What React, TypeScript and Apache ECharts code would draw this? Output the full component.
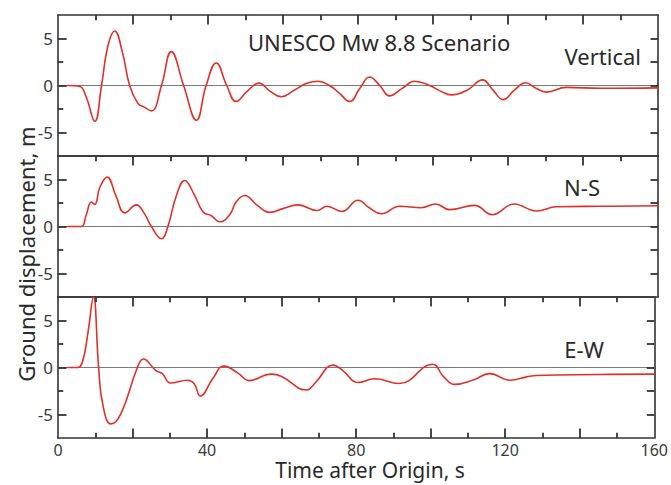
import React, { useEffect, useRef } from "react";
import * as echarts from "echarts";

// time (s) / displacement (m) samples
const verticalT = [2.5, 5.8, 7.5, 9.8, 11.6, 13.3, 15.1, 17.2, 19.1, 21.3, 23, 24.9, 27.6, 30.2, 33.5, 36.9, 39.5, 42.2, 45, 47.5, 50.5, 53.6, 56.5, 59.6, 63, 66.2, 69.3, 72.4, 75, 77.8, 80.5, 83.1, 85.8, 88.4, 91.8, 95.1, 99.1, 102, 104.9, 109.3, 113.2, 116, 118.7, 121.7, 124.7, 127.5, 130.2, 135.6, 145, 160];
const verticalV = [0, -0.1, -1.2, -3.8, 0, 4.2, 5.8, 3.5, 0, -1.9, -2.3, -2.7, 0, 3.6, 0, -3.7, 0, 2.4, 0, -1.7, -0.6, 0.25, -0.6, -1.2, -0.5, 0.2, 0.45, 0, -0.8, -1.7, -0.3, 0.9, 0, -1.1, -0.3, 0.45, 0, -0.6, -1.0, -0.45, 0.6, -0.5, -1.5, -0.5, 0.3, -0.3, -0.7, -0.2, -0.3, -0.25];

const nsT = [2.5, 6.2, 7.5, 8.9, 9.8, 11.2, 13.1, 15.5, 17.8, 20.9, 23, 24.9, 27.6, 29.3, 31.5, 33.8, 36.2, 38.7, 40.9, 43.1, 45.8, 47.5, 49.8, 53, 56.5, 60, 64, 69.1, 71.7, 75.7, 80, 83, 86.2, 91.1, 96.9, 100.7, 104.4, 111.1, 115.8, 121.6, 127.6, 132.9, 145, 160];
const nsV = [0, 0, 1.2, 2.6, 2.35, 4.2, 5.25, 3.2, 1.45, 2.3, 1.4, 0, -1.3, 0, 3.2, 4.9, 3.5, 1.55, 1.15, 0.5, 1.25, 2.6, 3.3, 2.3, 1.5, 1.9, 2.3, 1.7, 2.15, 1.6, 2.8, 2.0, 1.35, 2.15, 2.0, 2.4, 1.8, 2.25, 1.25, 2.4, 1.65, 2.1, 2.15, 2.2];

const ewT = [2.5, 5.3, 6.7, 8, 9.5, 10.9, 12, 14.2, 16.9, 21.3, 22.9, 26.2, 28, 30.2, 34.7, 36.5, 38.2, 41.5, 44.5, 48.5, 51.1, 57.3, 60, 66.7, 69.1, 73.8, 76.5, 80.5, 84.9, 91.6, 100.5, 103.5, 106.5, 111.6, 115.8, 121.3, 125.8, 128.4, 145, 160];
const ewV = [0, 0, 0.8, 3.6, 7.5, 0, -3.9, -6.0, -4.9, 0, 0.9, -0.3, -0.65, -1.65, -1.35, -1.7, -3.05, -1.2, 0.15, -0.65, -1.4, -0.7, -0.95, -2.4, -1.6, 0.25, -0.35, -1.6, -1.2, -1.7, 0.35, -1.0, -1.8, -1.3, -0.65, -1.35, -1.0, -0.85, -0.75, -0.7];

const xTicks = [0, 40, 80, 120, 160];
const xMajorMarks = [20, 40, 60, 80, 100, 120, 140];
const xMinorMarks = [10, 30, 50, 70, 90, 110, 130, 150];
const yTicks = [-5, 0, 5];
const yMajorMarks = [-5, 0, 5];
const yMinorMarks = [-2.5, 2.5];
const yAllMarks = [-5, -2.5, 0, 2.5, 5];
const panelNames = ["Vertical", "N-S", "E-W"];

const FONT = "'Noto Sans', 'Open Sans', sans-serif";
const RED = "#e0302a";
const FRAME = "#333333";
const X_MIN = 0;
const X_MAX = 160;
const Y_MIN = -7.5;
const Y_MAX = 7.5;

export default function App() {
  const ref = useRef<HTMLDivElement>(null);
  useEffect(() => {
    if (!ref.current) return;
    const chart = echarts.init(ref.current, undefined, { renderer: "svg" });
    const tops = [15, 156, 297];
    const H = 141;
    const grids = tops.map((t) => ({
      left: 58,
      width: 600,
      top: t,
      height: H,
      show: false,
    }));
    const xAxes: any[] = [];
    const yAxes: any[] = [];
    const lineStyle = { color: FRAME, width: 1.6 };
    tops.forEach((_, i) => {
      // top edge
      xAxes.push({
        type: "value",
        gridIndex: i,
        position: "top",
        min: X_MIN,
        max: X_MAX,
        interval: 20,
        axisLine: { show: true, onZero: false, lineStyle },
        axisTick: { show: false },
        axisLabel: { show: false },
        splitLine: { show: false },
      });
      // bottom edge
      xAxes.push({
        type: "value",
        gridIndex: i,
        position: "bottom",
        min: X_MIN,
        max: X_MAX,
        interval: 20,
        axisLine: { show: true, onZero: false, lineStyle },
        axisTick: { show: false },
        axisLabel: {
          show: i === 2,
          margin: 4,
          fontSize: 16,
          fontFamily: FONT,
          color: "#3a3a3a",
          formatter: (v: number) => (xTicks.includes(v) ? String(v) : ""),
        },
        splitLine: { show: false },
      });
      yAxes.push({
        type: "value",
        gridIndex: i,
        position: "left",
        min: Y_MIN,
        max: Y_MAX,
        interval: 2.5,
        axisLine: { show: true, onZero: false, lineStyle },
        axisTick: { show: false },
        axisLabel: {
          show: true,
          margin: 5,
          fontSize: 17,
          fontFamily: FONT,
          color: "#3a3a3a",
          formatter: (v: number) => (yTicks.includes(v) ? String(v) : ""),
        },
        splitLine: { show: false },
      });
      yAxes.push({
        type: "value",
        gridIndex: i,
        position: "right",
        min: Y_MIN,
        max: Y_MAX,
        interval: 2.5,
        axisLine: { show: true, onZero: false, lineStyle },
        axisTick: { show: false },
        axisLabel: { show: false },
        splitLine: { show: false },
      });
    });

    const datasets = [
      verticalT.map((t, i) => [t, verticalV[i]]),
      nsT.map((t, i) => [t, nsV[i]]),
      ewT.map((t, i) => [t, ewV[i]]),
    ];
    const series: any[] = datasets.map((d, i) => ({
      type: "line",
      name: panelNames[i],
      xAxisIndex: i * 2,
      yAxisIndex: i * 2,
      data: d,
      smooth: 0.45,
      showSymbol: false,
      symbol: "none",
      lineStyle: { color: RED, width: 1.6 },
      z: 3,
      markLine: {
        silent: true,
        symbol: "none",
        label: { show: false },
        lineStyle: { color: "#7a7a7a", width: 1, type: "solid" },
        data: [{ yAxis: 0 }],
        z: 2,
      },
    }));

    // frame tick marks drawn as short marker line segments on each panel's scales
    const seg = (a: number[], b: number[]) => [{ coord: a }, { coord: b }];
    tops.forEach((_, i) => {
      const data: any[] = [];
      xMajorMarks.forEach((t) => data.push(seg([t, Y_MAX], [t, Y_MAX - 1.0])));
      xMinorMarks.forEach((t) => data.push(seg([t, Y_MAX], [t, Y_MAX - 0.55])));
      if (i === 2) {
        xMajorMarks.forEach((t) => data.push(seg([t, Y_MIN], [t, Y_MIN + 1.0])));
        xMinorMarks.forEach((t) => data.push(seg([t, Y_MIN], [t, Y_MIN + 0.55])));
      }
      yMajorMarks.forEach((v) => data.push(seg([X_MIN, v], [X_MIN + 2.3, v])));
      yMinorMarks.forEach((v) => data.push(seg([X_MIN, v], [X_MIN + 1.4, v])));
      yAllMarks.forEach((v) => data.push(seg([X_MAX, v], [X_MAX - 2.0, v])));
      series.push({
        type: "line",
        xAxisIndex: i * 2,
        yAxisIndex: i * 2,
        data: [],
        silent: true,
        z: 6,
        markLine: {
          silent: true,
          symbol: "none",
          label: { show: false },
          lineStyle: { color: FRAME, width: 1.8, type: "solid" },
          data,
        },
      });
    });

    const txt = (x: number, y: number, text: string, align = "left", size = 22) => ({
      type: "text",
      x,
      y,
      style: {
        text,
        fontSize: size,
        fontFamily: FONT,
        fill: "#2a2a2a",
        align,
        verticalAlign: "middle",
      },
    });

    chart.setOption({
      animation: false,
      grid: grids,
      xAxis: xAxes,
      yAxis: yAxes,
      series,
      graphic: [
        txt(248, 42, "UNESCO Mw 8.8 Scenario"),
        txt(641, 56, panelNames[0], "right"),
        txt(600, 187, panelNames[1], "right"),
        txt(604, 349, panelNames[2], "right"),
        txt(370, 470, "Time after Origin, s", "center", 21),
        {
          type: "text",
          x: 26,
          y: 254,
          rotation: Math.PI / 2,
          style: {
            text: "Ground displacement, m",
            fontSize: 22,
            fontFamily: FONT,
            fill: "#2a2a2a",
            align: "center",
            verticalAlign: "middle",
          },
        },
      ],
    });
    return () => chart.dispose();
  }, []);
  return (
    <div
      ref={ref}
      style={{ position: "absolute", left: 0, top: 0, width: 671, height: 485, background: "#fff" }}
    />
  );
}
